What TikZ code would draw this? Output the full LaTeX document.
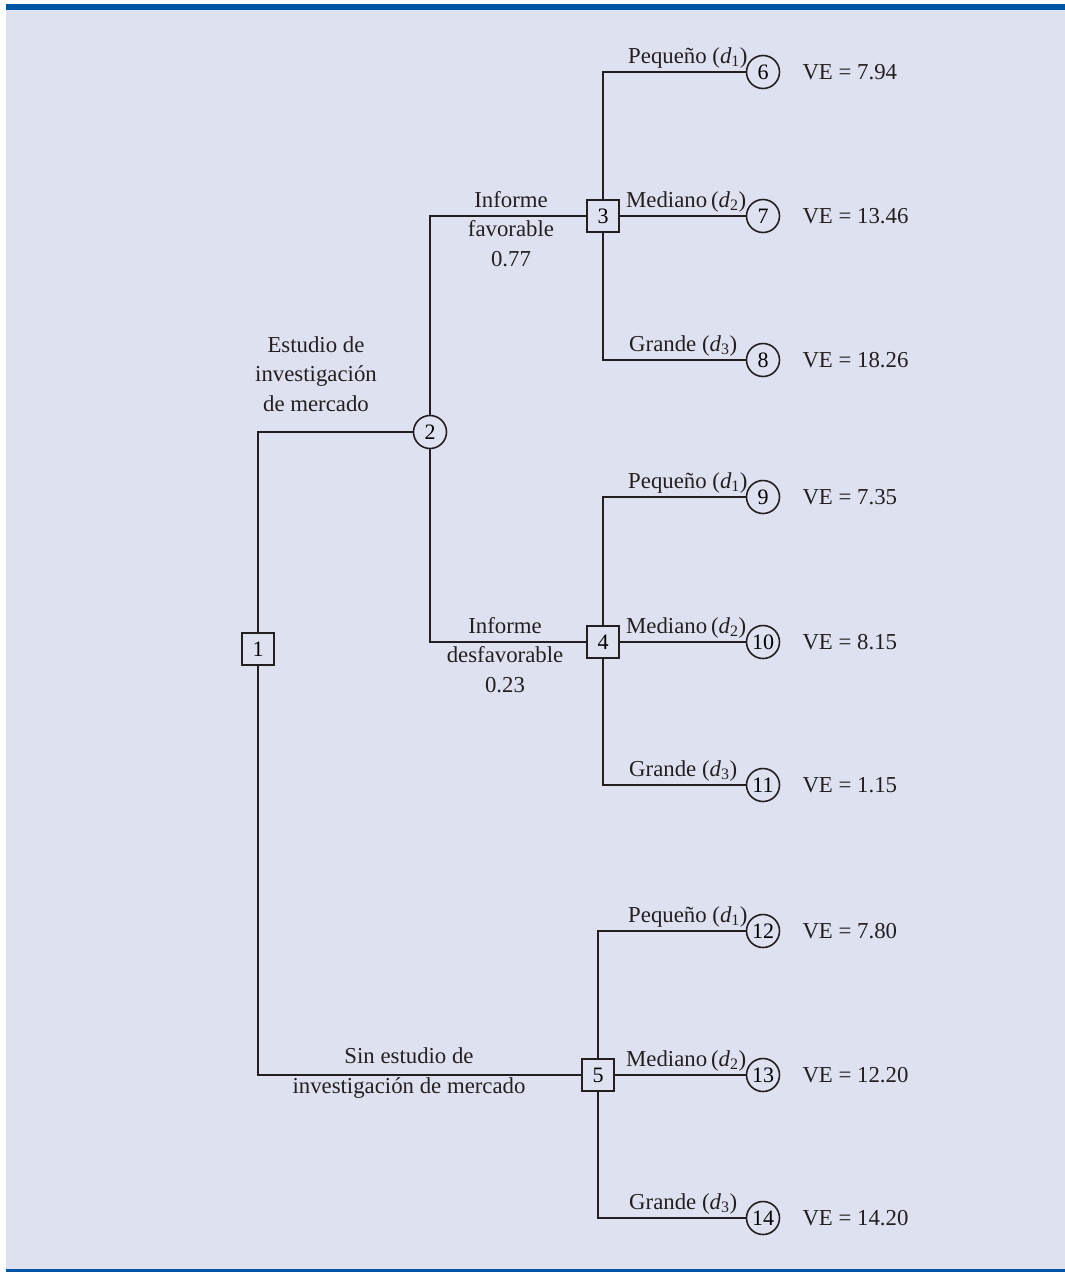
\documentclass[tikz,border=0pt]{standalone}
\usepackage{fontspec}
\setmainfont{Liberation Serif}
\usetikzlibrary{positioning}

\definecolor{paper}{HTML}{DEE2F0}
\definecolor{barblue}{HTML}{0056A2}
\definecolor{ink}{HTML}{231F20}

\begin{document}
\begin{tikzpicture}[
  x=1pt, y=-1pt,
  font=\fontsize{22.8}{29.5}\selectfont,
  node distance=6pt and 20pt,
  decision/.style={
    draw=ink,
    fill=paper,
    line width=1.6pt,
    minimum size=32pt,
    inner sep=0pt,
    font=\fontsize{22}{24}\selectfont
  },
  chance/.style={
    draw=ink,
    fill=paper,
    circle,
    line width=1.6pt,
    minimum size=33pt,
    inner sep=0pt,
    font=\fontsize{22}{24}\selectfont
  },
  branch/.style={draw=ink,line width=1.6pt},
  choice/.style={anchor=base west,inner sep=0pt,text=ink},
  outcome/.style={align=center,text=ink,inner sep=0pt},
  value/.style={text=ink,inner sep=0pt}
]
\useasboundingbox (0,0) rectangle (1065,1272);
\fill[white] (0,0) rectangle (1065,1272);
\fill[paper] (6,10) rectangle (1065,1269);
\fill[barblue] (6,4) rectangle (1065,10);
\fill[barblue] (6,1269) rectangle (1065,1272);

% decision and chance points
\node[decision] (n1) at (258,649) {1};
\node[chance] (n2) at (430,432) {2};
\node[decision] (n3) at (603,216) {3};
\node[decision] (n4) at (603,642) {4};
\node[decision] (n5) at (598,1075) {5};

% end points
\node[chance] (n6) at (763,72) {6};
\node[chance] (n7) at (763,216) {7};
\node[chance] (n8) at (763,360) {8};
\node[chance] (n9) at (763,497) {9};
\node[chance] (n10) at (763,642) {10};
\node[chance] (n11) at (763,785) {11};
\node[chance] (n12) at (763,931) {12};
\node[chance] (n13) at (763,1075) {13};
\node[chance] (n14) at (763,1218) {14};

\draw[branch] (n1) |- (n2);
\draw[branch] (n1) |- (n5);
\draw[branch] (n2) |- (n3);
\draw[branch] (n2) |- (n4);
\draw[branch] (n3) |- (n6);
\draw[branch] (n3) -- (n7);
\draw[branch] (n3) |- (n8);
\draw[branch] (n4) |- (n9);
\draw[branch] (n4) -- (n10);
\draw[branch] (n4) |- (n11);
\draw[branch] (n5) |- (n12);
\draw[branch] (n5) -- (n13);
\draw[branch] (n5) |- (n14);

% branch labels (base = last line)
\node[outcome, anchor=base] (study) at (316,411) {Estudio de\\investigación\\de mercado};
\node[outcome, anchor=base] (fav) at (511,266) {Informe\\favorable\\0.77};
\node[outcome, anchor=base] (unfav) at (505,692) {Informe\\desfavorable\\0.23};
\node[outcome, anchor=base] (nostudy) at (409,1093) {Sin estudio de\\investigación de mercado};

\node[choice] (c6) at (628,63) {Pequeño (\textit{d}\textsubscript{1})};
\node[choice] (c7) at (626,207) {Mediano\,(\textit{d}\textsubscript{2})};
\node[choice] (c8) at (629,351) {Grande (\textit{d}\textsubscript{3})};
\node[choice] (c9) at (628,488) {Pequeño (\textit{d}\textsubscript{1})};
\node[choice] (c10) at (626,633) {Mediano\,(\textit{d}\textsubscript{2})};
\node[choice] (c11) at (629,776) {Grande (\textit{d}\textsubscript{3})};
\node[choice] (c12) at (628,922) {Pequeño (\textit{d}\textsubscript{1})};
\node[choice] (c13) at (626,1066) {Mediano\,(\textit{d}\textsubscript{2})};
\node[choice] (c14) at (629,1209) {Grande (\textit{d}\textsubscript{3})};

% expected values
\node[value, right=22pt of n6] (v6) {VE = 7.94};
\node[value, right=22pt of n7] (v7) {VE = 13.46};
\node[value, right=22pt of n8] (v8) {VE = 18.26};
\node[value, right=22pt of n9] (v9) {VE = 7.35};
\node[value, right=22pt of n10] (v10) {VE = 8.15};
\node[value, right=22pt of n11] (v11) {VE = 1.15};
\node[value, right=22pt of n12] (v12) {VE = 7.80};
\node[value, right=22pt of n13] (v13) {VE = 12.20};
\node[value, right=22pt of n14] (v14) {VE = 14.20};
\end{tikzpicture}
\end{document}
